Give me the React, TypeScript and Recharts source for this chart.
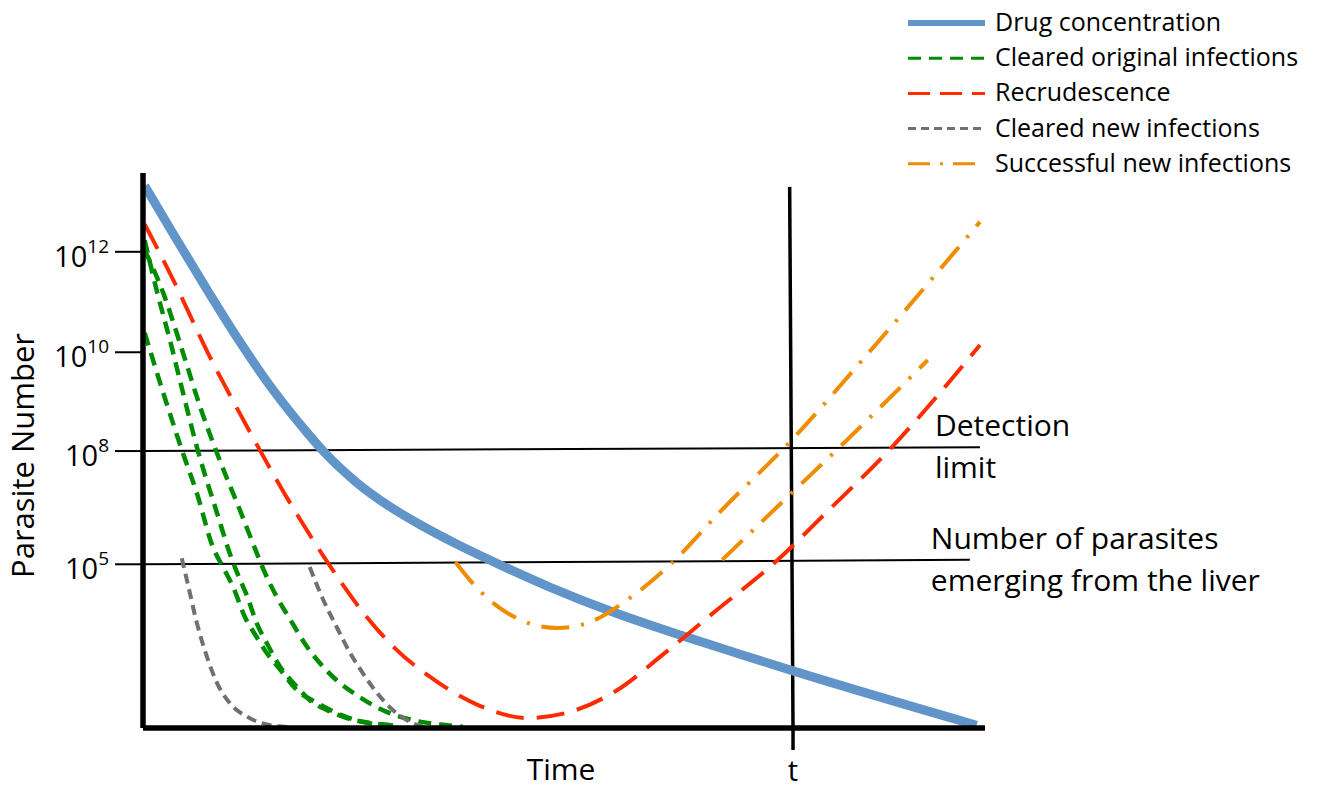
import React from "react";
import { LineChart, Line, XAxis, YAxis, ReferenceLine, Legend } from "recharts";

// Schematic chart: time runs 0..100, the vertical scale is a relative (log-like) parasite level 0..100.
type Pt = [number, number];

const drugConcentration: Pt[] = [
  [0.2, 97.7], [3.6, 89.0], [7.6, 79.0], [11.5, 69.6], [15.4, 61.0], [19.5, 53.2],
  [21.4, 49.9], [25.4, 44.2], [29.3, 39.9], [33.3, 36.3], [37.3, 33.1], [42.4, 29.4],
  [48.3, 25.4], [55.8, 20.9], [64.1, 16.6], [70.9, 13.3], [77.2, 10.3], [99.0, 0.5],
];

const clearedOriginalA: Pt[] = [
  [0.2, 71.2], [2.4, 60.4], [4.75, 49.5], [6.4, 42.3], [8.3, 32.6], [9.5, 29.0],
  [10.7, 25.4], [12.1, 20.0], [13.5, 16.4], [14.7, 13.5], [16.3, 10.5], [18.3, 6.8],
  [20.7, 4.5], [23.0, 2.7], [26.1, 1.1], [30.2, 0.4],
];
const clearedOriginalB: Pt[] = [
  [0.2, 87.9], [1.7, 78.4], [3.2, 69.9], [4.75, 60.4], [6.4, 50.6], [8.8, 38.7],
  [10.3, 31.5], [11.2, 27.9], [12.4, 23.6], [13.5, 18.9], [14.7, 15.3], [16.3, 11.0],
  [18.3, 7.4], [19.8, 5.0], [21.9, 3.2], [24.2, 1.8], [27.0, 0.9], [30.2, 0.4],
];
const clearedOriginalC: Pt[] = [
  [0.2, 86.1], [2.4, 78.4], [4.75, 67.6], [6.8, 57.8], [9.1, 48.3], [11.5, 39.3],
  [13.6, 31.2], [14.5, 27.9], [15.9, 23.6], [17.5, 19.5], [19.5, 14.6], [21.0, 11.7],
  [23.0, 8.6], [25.4, 5.9], [28.5, 3.2], [32.1, 1.4], [36.1, 0.5], [38.0, 0.2],
];

const recrudescence: Pt[] = [
  [0.2, 90.8], [3.6, 80.7], [7.7, 67.6], [12.1, 55.0], [16.9, 42.0], [21.9, 29.9],
  [26.1, 20.9], [29.9, 14.4], [34.1, 9.2], [40.0, 4.0], [45.6, 1.8], [50.7, 2.9],
  [56.3, 6.8], [61.8, 13.3], [67.7, 20.7], [75.1, 29.9], [81.2, 38.9], [88.5, 49.9],
  [99.4, 69.0],
];

const clearedNewA: Pt[] = [
  [4.6, 30.6], [5.3, 26.1], [6.4, 18.9], [7.6, 12.8], [8.8, 8.1], [10.3, 4.5],
  [12.4, 2.0], [15.1, 0.5], [17.1, 0.2],
];
const clearedNewB: Pt[] = [
  [19.8, 29.0], [21.4, 23.1], [23.0, 18.2], [24.6, 13.5], [26.1, 9.9], [27.8, 6.3],
  [29.7, 3.2], [31.7, 1.1], [33.3, 0.2],
];

const successfulNewA: Pt[] = [
  [37.1, 29.9], [38.8, 26.7], [41.6, 22.5], [44.8, 19.5], [49.2, 18.0], [53.1, 19.1],
  [57.8, 23.4], [62.8, 29.7], [68.5, 38.9], [76.8, 51.5], [87.2, 69.4], [99.4, 91.2],
];
const successfulNewB: Pt[] = [[68.8, 30.3], [76.8, 42.0], [83.0, 51.0], [93.2, 66.3]];

const yTicks = [85.8, 67.7, 49.9, 29.5];
const yTickExponents = ["12", "10", "8", "5"];
const xTicks = [77.2];
const xTickLabels = ["t"];

const detectionLimit: Pt[] = [[0, 49.9], [99.4, 50.6]];
const liverEmergence: Pt[] = [[0, 29.5], [98.2, 30.3]];
const timeT: Pt[] = [[76.8, 97.5], [77.2, 0]];

const BLUE = "#6195C9";
const GREEN = "#008C00";
const RED = "#FF2B00";
const GRAY = "#707070";
const ORANGE = "#F08C00";
const FONT = "'Open Sans', Lato, sans-serif";

const legendItems = [
  { name: "Drug concentration", color: BLUE, width: 6, dash: undefined },
  { name: "Cleared original infections", color: GREEN, width: 3, dash: "13 8" },
  { name: "Recrudescence", color: RED, width: 3, dash: "22 10" },
  { name: "Cleared new infections", color: GRAY, width: 3, dash: "8 5" },
  { name: "Successful new infections", color: ORANGE, width: 3, dash: "22 10 3 10" },
];

const toPoints = (arr: Pt[]) => arr.map(([x, y]) => ({ x, y }));
const seg = (arr: Pt[]) => arr.map(([x, y]) => ({ x, y })) as any;

function LegendBox() {
  return (
    <svg width={441} height={190} style={{ fontFamily: FONT }}>
      {legendItems.map((item, i) => {
        const cy = 23 + i * 35.2;
        return (
          <g key={item.name}>
            <line x1={28} x2={105} y1={cy} y2={cy} stroke={item.color} strokeWidth={item.width} strokeDasharray={item.dash} />
            <text x={115} y={cy + 8} fontSize={25} fill="#000">{item.name}</text>
          </g>
        );
      })}
    </svg>
  );
}

function YTick(props: any) {
  const { x, y, payload } = props;
  const exp = yTickExponents[yTicks.indexOf(payload.value)];
  return (
    <text x={x - 4} y={y + 15} textAnchor="end" fontSize={29} fill="#000">
      10<tspan dy={-14} fontSize={19}>{exp}</tspan>
    </text>
  );
}

function XTick(props: any) {
  const { x, y, payload } = props;
  const label = xTickLabels[xTicks.indexOf(payload.value)];
  return (
    <text x={x} y={y + 29} textAnchor="middle" fontSize={29} fill="#000">{label}</text>
  );
}

function YTitle(props: any) {
  const vb = props.viewBox;
  const cx = vb.x + 34;
  const cy = vb.y + vb.height / 2 + 5;
  return (
    <text transform={`translate(${cx},${cy}) rotate(-90)`} textAnchor="middle" fontSize={31} fill="#000">
      Parasite Number
    </text>
  );
}

function XTitle(props: any) {
  const vb = props.viewBox;
  return (
    <text x={vb.x + vb.width / 2 - 3} y={vb.y + 52} textAnchor="middle" fontSize={30} fill="#000">
      Time
    </text>
  );
}

function LineNote(props: any) {
  const { viewBox, lines, dx } = props;
  const right = viewBox.x + viewBox.width;
  const midY = viewBox.y + viewBox.height / 2;
  return (
    <text fontSize={30} fill="#000">
      <tspan x={right - dx} y={midY - 13}>{lines[0]}</tspan>
      <tspan x={right - dx} y={midY + 29}>{lines[1]}</tspan>
    </text>
  );
}

export default function App() {
  return (
    <div style={{ position: "absolute", left: 0, top: 0, fontFamily: FONT, background: "#fff" }}>
      <LineChart width={1321} height={789} margin={{ top: 173, right: 336, bottom: 0, left: 0 }}>
        <XAxis
          type="number"
          dataKey="x"
          domain={[0, 100]}
          ticks={xTicks}
          tickSize={22}
          height={61}
          axisLine={{ stroke: "#000", strokeWidth: 5.5 }}
          tickLine={{ stroke: "#000", strokeWidth: 3.5 }}
          tick={<XTick />}
          label={<XTitle />}
          allowDataOverflow
        />
        <YAxis
          type="number"
          domain={[0, 100]}
          ticks={yTicks}
          tickSize={28}
          width={143}
          axisLine={{ stroke: "#000", strokeWidth: 5.5 }}
          tickLine={{ stroke: "#000", strokeWidth: 2 }}
          tick={<YTick />}
          label={<YTitle />}
          allowDataOverflow
        />
        <ReferenceLine segment={seg(detectionLimit)} stroke="#000" strokeWidth={2} ifOverflow="visible"
          label={<LineNote lines={["Detection", "limit"]} dx={45} />} />
        <ReferenceLine segment={seg(liverEmergence)} stroke="#000" strokeWidth={2} ifOverflow="visible"
          label={<LineNote lines={["Number of parasites", "emerging from the liver"]} dx={39} />} />
        <ReferenceLine segment={seg(timeT)} stroke="#000" strokeWidth={3.5} ifOverflow="visible" />

        <Line data={toPoints(drugConcentration)} dataKey="y" name="Drug concentration" type="monotone"
          stroke={BLUE} strokeWidth={9} dot={false} activeDot={false} isAnimationActive={false} />
        <Line data={toPoints(clearedOriginalA)} dataKey="y" name="Cleared original infections" type="monotone"
          stroke={GREEN} strokeWidth={4.5} strokeDasharray="13 8" dot={false} activeDot={false} isAnimationActive={false} />
        <Line data={toPoints(clearedOriginalB)} dataKey="y" name="Cleared original infections B" type="monotone" legendType="none"
          stroke={GREEN} strokeWidth={4.5} strokeDasharray="13 8" dot={false} activeDot={false} isAnimationActive={false} />
        <Line data={toPoints(clearedOriginalC)} dataKey="y" name="Cleared original infections C" type="monotone" legendType="none"
          stroke={GREEN} strokeWidth={4.5} strokeDasharray="13 8" dot={false} activeDot={false} isAnimationActive={false} />
        <Line data={toPoints(clearedNewA)} dataKey="y" name="Cleared new infections" type="monotone"
          stroke={GRAY} strokeWidth={4} strokeDasharray="10 6" dot={false} activeDot={false} isAnimationActive={false} />
        <Line data={toPoints(clearedNewB)} dataKey="y" name="Cleared new infections B" type="monotone" legendType="none"
          stroke={GRAY} strokeWidth={4} strokeDasharray="10 6" dot={false} activeDot={false} isAnimationActive={false} />
        <Line data={toPoints(recrudescence)} dataKey="y" name="Recrudescence" type="monotone"
          stroke={RED} strokeWidth={4} strokeDasharray="28 13" dot={false} activeDot={false} isAnimationActive={false} />
        <Line data={toPoints(successfulNewA)} dataKey="y" name="Successful new infections" type="monotone"
          stroke={ORANGE} strokeWidth={4} strokeDasharray="28 12 3 12" dot={false} activeDot={false} isAnimationActive={false} />
        <Line data={toPoints(successfulNewB)} dataKey="y" name="Successful new infections B" type="monotone" legendType="none"
          stroke={ORANGE} strokeWidth={4} strokeDasharray="28 12 3 12" dot={false} activeDot={false} isAnimationActive={false} />

        <Legend layout="vertical" align="center" verticalAlign="middle" content={<LegendBox />}
          wrapperStyle={{ top: 0, left: 880, width: 441, height: 190 }} />
      </LineChart>
    </div>
  );
}
